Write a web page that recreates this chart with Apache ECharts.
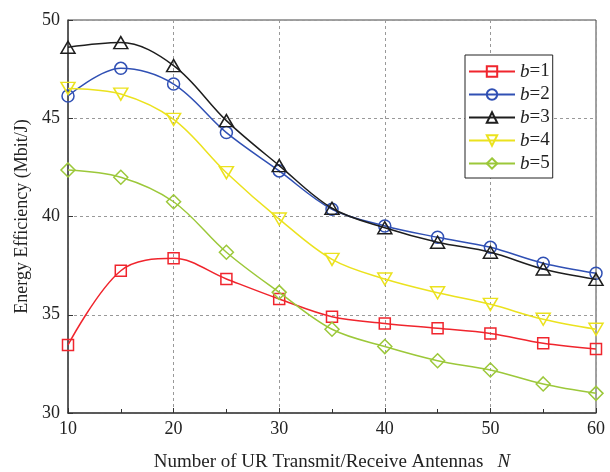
<!DOCTYPE html>
<html><head><meta charset="utf-8">
<script src="https://cdn.jsdelivr.net/npm/echarts@6/dist/echarts.min.js"></script>
<style>html,body{margin:0;padding:0;background:#fff}#c{width:610px;height:472px}</style>
</head><body><div id="c"></div>
<script>
const categories = [10, 15, 20, 25, 30, 35, 40, 45, 50, 55, 60];
const seriesNames = ['b=1', 'b=2', 'b=3', 'b=4', 'b=5'];
const b1 = [33.46, 37.24, 37.87, 36.82, 35.80, 34.90, 34.56, 34.31, 34.05, 33.55, 33.26];
const b2 = [46.13, 47.54, 46.74, 44.27, 42.32, 40.37, 39.52, 38.94, 38.43, 37.62, 37.11];
const b3 = [48.61, 48.85, 47.68, 44.88, 42.59, 40.42, 39.43, 38.69, 38.18, 37.33, 36.80];
const b4 = [46.52, 46.23, 44.94, 42.23, 39.87, 37.82, 36.82, 36.12, 35.53, 34.77, 34.26];
const b5 = [42.37, 42.00, 40.75, 38.18, 36.14, 34.26, 33.38, 32.66, 32.19, 31.48, 31.00];
const xTicks = [10, 20, 30, 40, 50, 60];
const yTicks = [30, 35, 40, 45, 50];

const values = [b1, b2, b3, b4, b5];
const colors = ['#f0252d', '#3050b4', '#1e1e1e', '#ebe21e', '#9cc83a'];
const symbols = ['rect', 'circle', 'path://M5,0 L10,9 L0,9 Z', 'path://M0,0 L10,0 L5,9 Z', 'diamond'];
const sizes = [[11, 11], 12, [14, 12], [14, 12], [14, 14]];
const FONT = 'Liberation Serif';

const chart = echarts.init(document.getElementById('c'));
chart.setOption({
  animation: false,
  backgroundColor: '#fff',
  grid: { left: 68, right: 14, top: 20, bottom: 59, containLabel: false, outerBoundsMode: 'none', show: true, borderColor: '#444', borderWidth: 1, backgroundColor: 'transparent' },
  legend: {
    left: 465, top: 55,
    orient: 'vertical',
    data: seriesNames,
    itemWidth: 46, itemHeight: 13, itemGap: 4,
    padding: [7, 3, 5, 3],
    borderColor: '#222', borderWidth: 1,
    backgroundColor: '#fff',
    formatter: n => '{i|b}{r|' + n.slice(1) + '}',
    textStyle: {
      fontFamily: FONT, fontSize: 19, color: '#222',
      rich: { i: { fontFamily: FONT, fontStyle: 'italic', fontSize: 19, color: '#222' }, r: { fontFamily: FONT, fontSize: 19, color: '#222' } }
    }
  },
  xAxis: {
    type: 'value', min: 10, max: 60, interval: 10,
    name: '{t|Number of UR Transmit/Receive Antennas   }{i|N}',
    nameLocation: 'middle', nameGap: 38,
    nameTextStyle: { fontFamily: FONT, fontSize: 19, color: '#222', rich: {
      t: { fontFamily: FONT, fontSize: 19, color: '#222', lineHeight: 22 },
      i: { fontFamily: FONT, fontStyle: 'italic', fontSize: 19, color: '#222', lineHeight: 22 } } },
    axisLine: { lineStyle: { color: '#444', width: 1.5 } },
    axisTick: { inside: true, length: 5, lineStyle: { color: '#333' } },
    minorTick: { show: true, splitNumber: 2, length: 4, lineStyle: { color: '#333' } },
    axisLabel: { fontFamily: FONT, fontSize: 18, color: '#222', margin: 7, customValues: xTicks },
    splitLine: { show: true, lineStyle: { color: '#999', type: [3, 3], width: 1 } }
  },
  yAxis: {
    type: 'value', min: 30, max: 50, interval: 5,
    name: 'Energy Efficiency (Mbit/J)',
    nameLocation: 'middle', nameGap: 29,
    nameTextStyle: { fontFamily: FONT, fontSize: 18, color: '#222' },
    axisLine: { show: true, lineStyle: { color: '#444', width: 1.5 } },
    axisTick: { show: true, inside: true, length: 5, lineStyle: { color: '#333' } },
    axisLabel: { fontFamily: FONT, fontSize: 18, color: '#222', margin: 8 },
    splitLine: { show: true, lineStyle: { color: '#999', type: [3, 3], width: 1 } }
  },
  series: values.map((v, i) => ({
    name: seriesNames[i],
    type: 'line',
    data: categories.map((x, j) => [x, v[j]]),
    smooth: 0.35,
    symbol: symbols[i],
    symbolSize: sizes[i],
    showSymbol: true,
    color: colors[i],
    lineStyle: { color: colors[i], width: 1.5 },
    itemStyle: { color: 'rgba(255,255,255,0)', borderColor: colors[i], borderWidth: 1.5 },
    z: 2 + i
  }))
});
</script></body></html>
